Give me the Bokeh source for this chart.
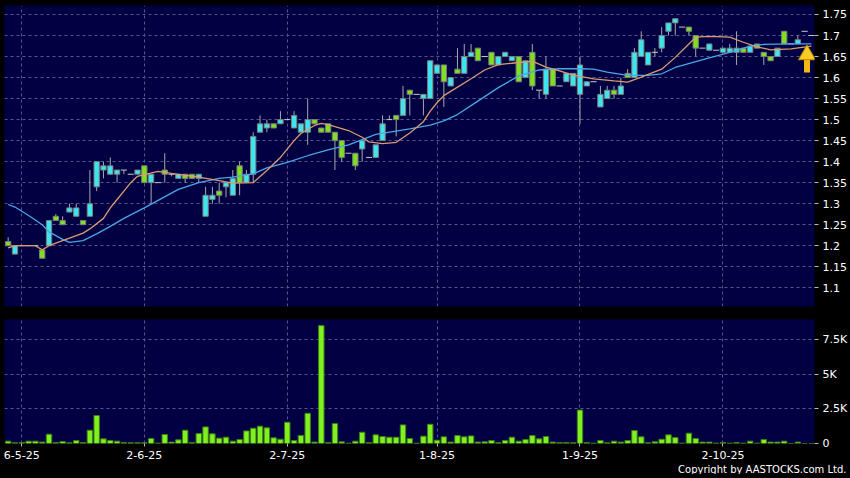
from bokeh.plotting import figure
from bokeh.layouts import column
from bokeh.models import ColumnDataSource, FixedTicker, Range1d, Title, GlobalInlineStyleSheet
from bokeh.embed import file_html
from bokeh.resources import INLINE

# ---------------- data ----------------
opens = [1.21, 1.18, 1.20, 1.20, 1.20, 1.19, 1.20, 1.27, 1.26, 1.28,
         1.27, 1.26, 1.27, 1.34, 1.38, 1.37, 1.37, 1.38, 1.37, 1.37,
         1.39, 1.35, 1.35, 1.38, 1.37, 1.36, 1.37, 1.37, 1.36, 1.27,
         1.31, 1.33, 1.34, 1.32, 1.39, 1.35, 1.37, 1.47, 1.48, 1.49,
         1.49, 1.50, 1.48, 1.47, 1.47, 1.50, 1.48, 1.49, 1.47, 1.45,
         1.42, 1.42, 1.43, 1.41, 1.41, 1.45, 1.50, 1.51, 1.51, 1.57,
         1.56, 1.55, 1.55, 1.61, 1.63, 1.58, 1.62, 1.61, 1.65, 1.67,
         1.65, 1.66, 1.63, 1.65, 1.64, 1.65, 1.60, 1.66, 1.57, 1.56,
         1.62, 1.58, 1.59, 1.58, 1.56, 1.58, 1.59, 1.53, 1.55, 1.57,
         1.56, 1.61, 1.60, 1.65, 1.63, 1.66, 1.67, 1.71, 1.73, 1.72,
         1.72, 1.70, 1.67, 1.665, 1.665, 1.66, 1.66, 1.66, 1.67, 1.66,
         1.68, 1.66, 1.65, 1.65, 1.71, 1.68, 1.68, 1.71, 1.70]
highs = [1.22, 1.20, 1.20, 1.20, 1.20, 1.19, 1.26, 1.275, 1.27, 1.30,
         1.30, 1.26, 1.38, 1.40, 1.40, 1.41, 1.38, 1.38, 1.37, 1.38,
         1.39, 1.37, 1.35, 1.42, 1.37, 1.37, 1.37, 1.37, 1.37, 1.34,
         1.34, 1.35, 1.35, 1.38, 1.40, 1.38, 1.47, 1.51, 1.50, 1.49,
         1.52, 1.50, 1.52, 1.49, 1.55, 1.50, 1.48, 1.49, 1.47, 1.45,
         1.42, 1.42, 1.45, 1.41, 1.44, 1.51, 1.51, 1.51, 1.58, 1.57,
         1.56, 1.56, 1.64, 1.63, 1.63, 1.60, 1.67, 1.68, 1.68, 1.67,
         1.65, 1.66, 1.65, 1.66, 1.65, 1.65, 1.64, 1.68, 1.57, 1.65,
         1.62, 1.58, 1.61, 1.61, 1.65, 1.59, 1.59, 1.58, 1.58, 1.58,
         1.60, 1.62, 1.67, 1.71, 1.66, 1.67, 1.72, 1.73, 1.74, 1.72,
         1.72, 1.70, 1.67, 1.68, 1.665, 1.67, 1.68, 1.71, 1.67, 1.675,
         1.68, 1.66, 1.65, 1.67, 1.71, 1.68, 1.70, 1.71, 1.70]
lows = [1.20, 1.18, 1.20, 1.20, 1.20, 1.17, 1.20, 1.26, 1.25, 1.28,
        1.27, 1.25, 1.27, 1.33, 1.36, 1.37, 1.35, 1.37, 1.37, 1.37,
        1.35, 1.30, 1.35, 1.35, 1.365, 1.36, 1.35, 1.36, 1.35, 1.27,
        1.30, 1.30, 1.315, 1.32, 1.32, 1.35, 1.35, 1.47, 1.47, 1.48,
        1.49, 1.50, 1.48, 1.47, 1.44, 1.49, 1.47, 1.47, 1.38, 1.40,
        1.42, 1.38, 1.40, 1.41, 1.41, 1.45, 1.50, 1.46, 1.51, 1.51,
        1.56, 1.51, 1.55, 1.61, 1.53, 1.58, 1.61, 1.61, 1.65, 1.64,
        1.65, 1.63, 1.63, 1.65, 1.64, 1.59, 1.60, 1.57, 1.55, 1.55,
        1.58, 1.58, 1.59, 1.58, 1.49, 1.58, 1.59, 1.53, 1.55, 1.55,
        1.56, 1.60, 1.60, 1.65, 1.63, 1.65, 1.66, 1.70, 1.70, 1.72,
        1.70, 1.65, 1.67, 1.665, 1.665, 1.66, 1.66, 1.63, 1.66, 1.66,
        1.67, 1.63, 1.64, 1.65, 1.68, 1.68, 1.68, 1.71, 1.70]
closes = [1.20, 1.20, 1.20, 1.20, 1.20, 1.17, 1.26, 1.26, 1.25, 1.29,
          1.29, 1.25, 1.30, 1.40, 1.39, 1.39, 1.38, 1.38, 1.37, 1.38,
          1.35, 1.37, 1.35, 1.37, 1.37, 1.37, 1.36, 1.36, 1.37, 1.32,
          1.32, 1.32, 1.35, 1.36, 1.35, 1.37, 1.46, 1.49, 1.49, 1.48,
          1.50, 1.50, 1.51, 1.49, 1.50, 1.49, 1.47, 1.47, 1.45, 1.41,
          1.42, 1.39, 1.45, 1.41, 1.44, 1.49, 1.50, 1.50, 1.55, 1.56,
          1.56, 1.56, 1.64, 1.63, 1.59, 1.60, 1.61, 1.65, 1.66, 1.64,
          1.65, 1.63, 1.65, 1.66, 1.65, 1.59, 1.64, 1.58, 1.57, 1.62,
          1.58, 1.58, 1.61, 1.61, 1.63, 1.59, 1.59, 1.56, 1.57, 1.56,
          1.58, 1.60, 1.66, 1.69, 1.66, 1.66, 1.70, 1.73, 1.74, 1.72,
          1.71, 1.67, 1.67, 1.68, 1.665, 1.67, 1.67, 1.67, 1.66, 1.675,
          1.67, 1.65, 1.64, 1.67, 1.68, 1.68, 1.69, 1.71, 1.70]
volumes = [170, 50, 70, 170, 170, 100, 670, 70, 140, 50,
           215, 70, 960, 2020, 335, 215, 170, 70, 50, 50,
           50, 360, 25, 650, 100, 265, 960, 70, 720, 1200,
           700, 385, 455, 170, 290, 910, 1105, 1250, 1130, 410,
           310, 1540, 215, 575, 2185, 100, 8520, 70, 1440, 120,
           25, 170, 815, 70, 625, 505, 455, 455, 1345, 360,
           25, 530, 1390, 240, 480, 100, 575, 480, 550, 100,
           120, 215, 70, 215, 455, 170, 290, 575, 335, 505,
           100, 70, 70, 50, 2420, 70, 25, 215, 50, 170,
           100, 215, 935, 480, 50, 120, 310, 625, 430, 25,
           745, 360, 100, 100, 25, 70, 25, 70, 25, 170,
           25, 290, 100, 100, 170, 0, 100, 0, 0]

# moving-average lines (candle index, price)
ma10_idx = [0, 1, 4, 5, 6, 9, 11, 12, 14, 15, 16, 17, 18, 19, 22, 24, 28, 31, 33, 36,
            38, 40, 42, 43, 45, 46, 47, 50, 52, 53, 55, 57, 59, 61, 62, 63, 64, 65, 68, 70,
            72, 74, 77, 79, 81, 83, 86, 89, 91, 93, 96, 98, 100, 101, 103, 106, 108, 110, 112, 115, 118]
ma10_val = [1.195, 1.20, 1.20, 1.19, 1.20, 1.218, 1.23, 1.24, 1.265, 1.29, 1.31, 1.33, 1.35, 1.365,
            1.377, 1.372, 1.363, 1.355, 1.349, 1.35, 1.379, 1.41, 1.45, 1.467, 1.486, 1.491, 1.488,
            1.474, 1.458, 1.447, 1.443, 1.446, 1.468, 1.495, 1.52, 1.54, 1.557, 1.567, 1.597, 1.618,
            1.631, 1.634, 1.639, 1.625, 1.616, 1.606, 1.597, 1.592, 1.589, 1.601, 1.62, 1.648, 1.68,
            1.696, 1.698, 1.696, 1.684, 1.673, 1.666, 1.668, 1.675]
ma20_idx = [0, 1, 3, 5, 6, 8, 9, 11, 13, 15, 17, 20, 25, 28, 31, 33, 36, 38, 41, 44,
            47, 50, 54, 59, 62, 64, 66, 69, 72, 75, 78, 81, 84, 86, 88, 91, 94, 96, 98, 101,
            103, 106, 109, 111, 115, 118]
ma20_val = [1.298, 1.292, 1.272, 1.25, 1.233, 1.215, 1.208, 1.212, 1.228, 1.246, 1.265, 1.29,
            1.334, 1.35, 1.36, 1.363, 1.371, 1.385, 1.398, 1.414, 1.428, 1.44, 1.465, 1.478,
            1.487, 1.497, 1.512, 1.544, 1.576, 1.604, 1.618, 1.621, 1.621, 1.62, 1.613, 1.605,
            1.605, 1.609, 1.624, 1.638, 1.647, 1.66, 1.675, 1.679, 1.68, 1.68]

x_ticks = [2, 20, 41, 63, 84, 105]
x_labels = ["6-5-25", "2-6-25", "2-7-25", "1-8-25", "1-9-25", "2-10-25"]
price_ticks = [1.1, 1.15, 1.2, 1.25, 1.3, 1.35, 1.4, 1.45, 1.5, 1.55, 1.6, 1.65, 1.7, 1.75]
price_labels = ["1.1", "1.15", "1.2", "1.25", "1.3", "1.35", "1.4", "1.45", "1.5", "1.55",
                "1.6", "1.65", "1.7", "1.75"]
vol_ticks = [0, 2500, 5000, 7500]
vol_labels = ["0", "2.5K", "5K", "7.5K"]

# ---------------- styling ----------------
BG = "#000000"
FRAME = "#000042"
GRID = "#56568a"
UP = "#3de6ee"
DOWN = "#7ee01e"
VOLC = "#7ff020"
FONT = "DejaVu Sans"

n = len(closes)
idx = list(range(n))
x_range = Range1d(-0.54, n - 0.55)

def style(fig, yt, yl):
    fig.background_fill_color = FRAME
    fig.border_fill_color = BG
    fig.outline_line_color = None
    fig.yaxis.ticker = FixedTicker(ticks=yt)
    fig.yaxis.major_label_overrides = dict(zip(yt, yl))
    fig.yaxis.axis_line_color = None
    fig.yaxis.major_tick_line_color = "#bbbbbb"
    fig.yaxis.major_tick_out = 4
    fig.yaxis.major_tick_in = 0
    fig.yaxis.minor_tick_line_color = None
    fig.yaxis.major_label_standoff = 4
    fig.yaxis.major_label_text_color = "#ffffff"
    fig.yaxis.major_label_text_font = FONT
    fig.yaxis.major_label_text_font_size = "11px"
    fig.xgrid.ticker = FixedTicker(ticks=x_ticks)
    for g in (fig.xgrid, fig.ygrid):
        g.grid_line_color = GRID
        g.grid_line_dash = "3 3"
        g.grid_line_width = 1

# ---------------- price chart ----------------
p = figure(frame_width=810, frame_height=301, x_range=x_range,
           y_range=Range1d(1.0554, 1.7714), y_axis_location="right",
           output_backend="svg", toolbar_location=None,
           min_border_left=4, min_border_top=5, min_border_bottom=13, min_border_right=0)
style(p, price_ticks, price_labels)
p.ygrid.ticker = FixedTicker(ticks=price_ticks)
p.xaxis.visible = False

p.segment(x0=idx, y0=lows, x1=idx, y1=highs, line_color="#a8a8a8", line_width=1)

body = [i for i in idx if opens[i] != closes[i]]
bsrc = ColumnDataSource(dict(
    x=body,
    top=[max(opens[i], closes[i]) for i in body],
    bottom=[min(opens[i], closes[i]) for i in body],
    color=[UP if closes[i] > opens[i] else DOWN for i in body],
))
p.vbar(x="x", top="top", bottom="bottom", width=0.78, fill_color="color",
       line_color="#7c7c7c", line_width=1, source=bsrc)

doji = [i for i in idx if opens[i] == closes[i]]
p.segment(x0=[i - 0.45 for i in doji], y0=[closes[i] for i in doji],
          x1=[i + 0.45 for i in doji], y1=[closes[i] for i in doji],
          line_color="#c8c8c8", line_width=1)

p.line(ma20_idx, ma20_val, line_color="#4aa6e6", line_width=1.3)
p.line(ma10_idx, ma10_val, line_color="#dc9a72", line_width=1.3)

# yellow marker arrow at the latest point
xa = idx[-1] - 0.65
tip = ma10_val[-1] - 0.006
p.segment(x0=[xa], y0=[tip - 0.057], x1=[xa], y1=[tip - 0.026],
          line_color="#f2b818", line_width=6)
p.scatter(x=[xa], y=[tip - 0.015], marker="triangle", size=17,
          fill_color="#f8cc22", line_color="#c88a00", line_width=1)

# ---------------- volume chart ----------------
v = figure(frame_width=810, frame_height=124, x_range=x_range,
           y_range=Range1d(0, 8960), y_axis_location="right",
           output_backend="svg", toolbar_location=None,
           min_border_left=4, min_border_top=0, min_border_bottom=0, min_border_right=0)
style(v, vol_ticks, vol_labels)
v.ygrid.ticker = FixedTicker(ticks=vol_ticks[1:])
v.xaxis.ticker = FixedTicker(ticks=x_ticks)
v.xaxis.major_label_overrides = dict(zip(x_ticks, x_labels))
v.xaxis.axis_line_color = None
v.xaxis.major_tick_line_color = "#bbbbbb"
v.xaxis.major_tick_out = 3
v.xaxis.major_tick_in = 0
v.xaxis.minor_tick_line_color = None
v.xaxis.major_label_standoff = 4
v.xaxis.major_label_text_color = "#ffffff"
v.xaxis.major_label_text_font = FONT
v.xaxis.major_label_text_font_size = "11px"

v.vbar(x=idx, top=volumes, bottom=0, width=0.8, fill_color=VOLC,
       line_color="#3f7d12", line_width=1)

v.add_layout(Title(text="Copyright by AASTOCKS.com Ltd.", align="right", offset=-32,
                   text_color="#ffffff", text_font=FONT, text_font_size="10px",
                   text_font_style="normal", standoff=0), "below")

layout = column(p, v, spacing=0,
                stylesheets=[GlobalInlineStyleSheet(css="html, body { background: #000000; }")])

open("out.html", "w").write(file_html(layout, INLINE))
